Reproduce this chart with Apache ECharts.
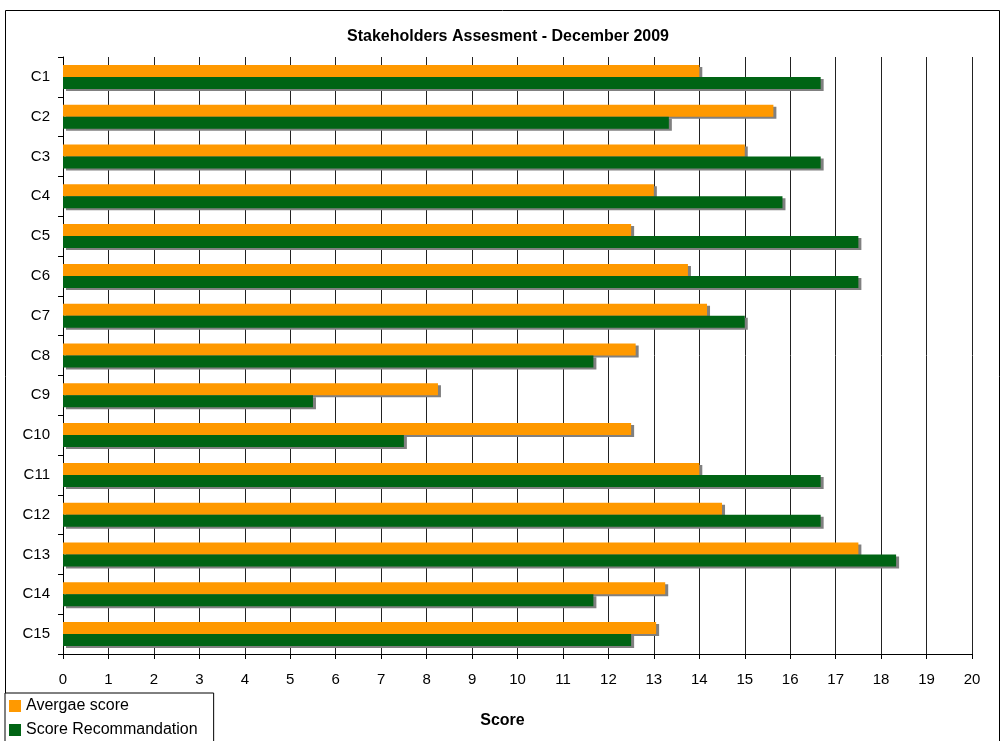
<!DOCTYPE html>
<html>
<head>
<meta charset="utf-8">
<script src="https://cdn.jsdelivr.net/npm/echarts@6/dist/echarts.min.js"></script>
<style>
  html, body { margin: 0; padding: 0; background: #fff; }
  #chart { width: 1005px; height: 741px; }
</style>
</head>
<body>
<div id="chart"></div>
<script>
// Stakeholder criteria C1..C15
const categories = ['C1','C2','C3','C4','C5','C6','C7','C8','C9','C10','C11','C12','C13','C14','C15'];

// Average score per criterion
const averageScore = [14.0, 15.63, 15.0, 13.0, 12.5, 13.75, 14.17, 12.6, 8.25, 12.5, 14.0, 14.5, 17.5, 13.25, 13.05];

// Recommended score per criterion
const recommendedScore = [16.67, 13.33, 16.67, 15.83, 17.5, 17.5, 15.0, 11.67, 5.5, 7.5, 16.67, 16.67, 18.33, 11.67, 12.5];

const seriesNames = ['Avergae score', 'Score Recommandation'];
const titleText = 'Stakeholders Assesment - December 2009';
const axisTitle = 'Score';

const FONT = '"Liberation Sans", Arial, sans-serif';

const chart = echarts.init(document.getElementById('chart'), null, { renderer: 'canvas' });

const barShadow = {
  shadowColor: '#808080',
  shadowBlur: 0,
  shadowOffsetX: 3,
  shadowOffsetY: 2
};

chart.setOption({
  animation: false,
  backgroundColor: '#ffffff',
  textStyle: { fontFamily: FONT, color: '#000' },
  title: {
    text: titleText,
    left: 503,
    top: 24,
    textAlign: 'center',
    textStyle: { fontFamily: FONT, fontSize: 16, fontWeight: 'bold', color: '#000' }
  },
  graphic: [{
    // outer chart frame
    type: 'rect',
    z: -10,
    shape: { x: 5.5, y: 10.5, width: 994, height: 740 },
    style: { fill: 'none', stroke: '#000', lineWidth: 1 },
    silent: true
  }],
  legend: {
    orient: 'vertical',
    left: 5,
    top: 693,
    height: 80,
    padding: [5, 16, 6, 4],
    itemGap: 8,
    itemWidth: 12,
    itemHeight: 12,
    icon: 'rect',
    borderColor: '#000',
    borderWidth: 1,
    backgroundColor: '#fff',
    textStyle: { fontFamily: FONT, fontSize: 16, color: '#000', lineHeight: 14 },
    data: seriesNames
  },
  grid: {
    left: 63,
    right: 33,
    top: 57,
    bottom: 87,
    containLabel: false
  },
  xAxis: {
    type: 'value',
    min: 0,
    max: 20,
    interval: 1,
    name: axisTitle,
    nameLocation: 'middle',
    nameGap: 59,
    nameTextStyle: { fontFamily: FONT, fontSize: 16, fontWeight: 'bold', color: '#000', padding: [0, 30, 0, 0] },
    axisLine: { show: true, lineStyle: { color: '#000', width: 1 } },
    axisTick: { show: true, length: 5, lineStyle: { color: '#000' } },
    axisLabel: { fontFamily: FONT, fontSize: 15, color: '#000', margin: 18 },
    splitLine: { show: true, lineStyle: { color: '#222', width: 1 } }
  },
  yAxis: {
    type: 'category',
    inverse: true,
    data: categories,
    axisLine: { show: true, lineStyle: { color: '#000', width: 1 } },
    axisTick: { show: true, length: 5, lineStyle: { color: '#000' } },
    axisLabel: { fontFamily: FONT, fontSize: 15, color: '#000', margin: 13 },
    splitLine: { show: false }
  },
  series: [
    {
      name: seriesNames[0],
      type: 'bar',
      data: averageScore,
      barWidth: 12,
      barGap: '0%',
      itemStyle: Object.assign({ color: '#FF9900' }, barShadow)
    },
    {
      name: seriesNames[1],
      type: 'bar',
      data: recommendedScore,
      barWidth: 12,
      barGap: '0%',
      itemStyle: Object.assign({ color: '#006414' }, barShadow)
    }
  ]
});
</script>
</body>
</html>
